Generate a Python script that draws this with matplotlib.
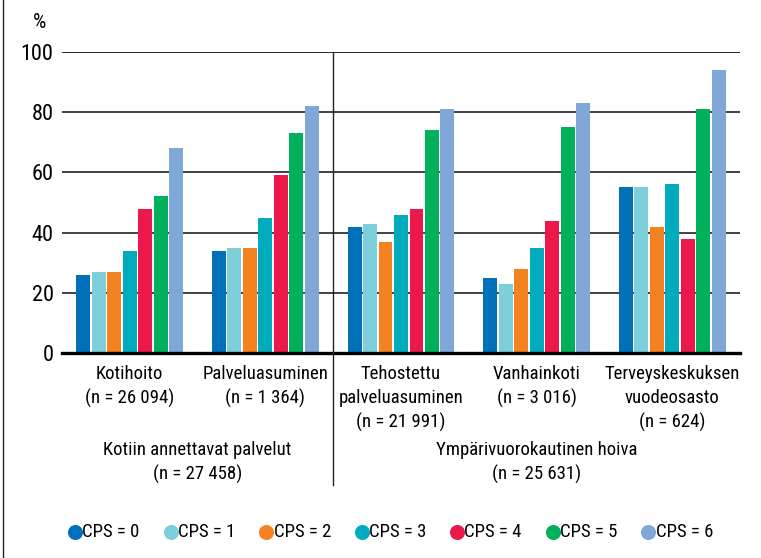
import matplotlib
matplotlib.use("Agg")
import matplotlib.pyplot as plt
from matplotlib import font_manager as fm
from matplotlib.lines import Line2D
from matplotlib.transforms import blended_transform_factory
import numpy as np

# --- data -------------------------------------------------------------
categories = [
    "Kotihoito\n(n = 26 094)",
    "Palveluasuminen\n(n = 1 364)",
    "Tehostettu\npalveluasuminen\n(n = 21 991)",
    "Vanhainkoti\n(n = 3 016)",
    "Terveyskeskuksen\nvuodeosasto\n(n = 624)",
]
series_labels = ["CPS = 0", "CPS = 1", "CPS = 2", "CPS = 3", "CPS = 4", "CPS = 5", "CPS = 6"]
cps0 = [26, 34, 42, 25, 55]
cps1 = [27, 35, 43, 23, 55]
cps2 = [27, 35, 37, 28, 42]
cps3 = [34, 45, 46, 35, 56]
cps4 = [48, 59, 48, 44, 38]
cps5 = [52, 73, 74, 75, 81]
cps6 = [68, 82, 81, 83, 94]
group_labels = ["Kotiin annettavat palvelut\n(n = 27 458)", "Ympärivuorokautinen hoiva\n(n = 25 631)"]
y_ticks = [0, 20, 40, 60, 80, 100]

series = [cps0, cps1, cps2, cps3, cps4, cps5, cps6]
colors = ["#0070b8", "#7dcfdb", "#f58220", "#00abbd", "#ec174b", "#00b05a", "#7fa7d8"]


# --- font: prefer a narrow / condensed sans if one is installed ------
def pick_condensed():
    prefs = ["sansnarrow-regular", "robotocondensed-regular", "condensed-regular",
             "sanscondensed.ttf", "sans-condensed.ttf", "narrow"]
    entries = [f for f in fm.fontManager.ttflist
               if f.style == "normal" and f.weight in (400, "normal", "regular")]
    for p in prefs:
        for f in entries:
            if p in f.fname.lower().replace("_", "").replace(" ", ""):
                return f
    for f in entries:
        if str(f.stretch) in ("condensed", "semi-condensed"):
            return f
    return None


cf = pick_condensed()
if cf is not None:
    plt.rcParams["font.family"] = [cf.name, "DejaVu Sans"]
    plt.rcParams["font.stretch"] = cf.stretch
    FS = 13.5
else:
    plt.rcParams["font.family"] = ["Roboto", "DejaVu Sans"]
    FS = 11.5

fig = plt.figure(figsize=(7.61, 5.58), dpi=100)
ax = fig.add_axes([62 / 761, 1 - 353 / 558, (740 - 62) / 761, (353 - 52) / 558])

x = np.arange(len(categories))
pitch = 0.1142
width = 0.103
for j, (vals, col) in enumerate(zip(series, colors)):
    ax.bar(x + (j - 3) * pitch, vals, width=width, color=col, zorder=3, linewidth=0)

ax.set_xlim(-0.5, 4.5)
ax.set_ylim(0, 100)
ax.set_yticks(y_ticks)
ax.set_yticklabels([str(t) for t in y_ticks], fontsize=FS + 2.5)
ax.set_xticks(x)
ax.set_xticklabels(categories, fontsize=FS, linespacing=1.42)
ax.tick_params(axis="both", length=0)
ax.tick_params(axis="y", pad=6)
ax.tick_params(axis="x", pad=8.5)
for s in ax.spines.values():
    s.set_visible(False)

# horizontal gridlines
for t in y_ticks[1:]:
    ax.axhline(t, color="#1a1a1a" if t == 100 else "#333333", lw=1.3, zorder=1)
ax.axhline(0, color="black", lw=2.4, zorder=4, clip_on=False)

btf = blended_transform_factory(ax.transData, ax.transAxes)

# divider between the two service groups
ax.add_line(Line2D([1.5, 1.5], [1.0, -0.44], color="#222222", lw=1.0,
                   transform=btf, clip_on=False, zorder=5))

# group labels
ax.text(0.5, -0.292, group_labels[0], transform=btf, ha="center", va="top",
        fontsize=FS, linespacing=1.42)
ax.text(3.0, -0.292, group_labels[1], transform=btf, ha="center", va="top",
        fontsize=FS, linespacing=1.42)

# percent unit label
fig.text(39 / 761, 1 - 22 / 558, "%", ha="center", va="center", fontsize=FS + 1.5)

# legend row
ly = 1 - 532 / 558
for i, (lab, col) in enumerate(zip(series_labels, colors)):
    mx = (75 + 95.5 * i) / 761
    fig.add_artist(Line2D([mx], [ly], marker="o", markersize=9.8, color=col,
                          linestyle="none", transform=fig.transFigure))
    fig.text(mx + 7.5 / 761, ly, lab, ha="left", va="center", fontsize=FS)

# left frame line
fig.add_artist(Line2D([3 / 761, 3 / 761], [0, 1], color="#222222", lw=1.0,
                      transform=fig.transFigure))

fig.savefig("out.png", dpi=100)
